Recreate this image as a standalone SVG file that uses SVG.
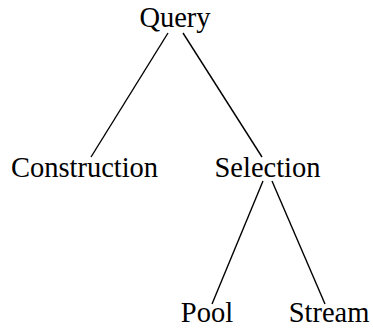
<svg xmlns="http://www.w3.org/2000/svg" width="373" height="328" viewBox="0 0 373 328">
<style>
text{font-family:"Liberation Serif","Times New Roman",serif;font-size:28.5px;fill:#000;text-anchor:middle}
.e line{stroke:#000;stroke-width:1.4;stroke-linecap:butt}
</style>
<rect width="373" height="328" fill="#fff"/>
<g class="e" id="connectors">
<line x1="168" y1="33" x2="91" y2="157"/>
<line x1="183" y1="33" x2="262" y2="157"/>
<line x1="263" y1="181" x2="212" y2="304"/>
<line x1="272" y1="181" x2="325" y2="304"/>
</g>
<g id="query"><text x="175" y="27">Query</text></g>
<g id="construction"><text x="84.5" y="177">Construction</text></g>
<g id="selection"><text x="267.5" y="177">Selection</text></g>
<g id="pool"><text x="207" y="321.5">Pool</text></g>
<g id="stream"><text x="329" y="321.5">Stream</text></g>
</svg>
